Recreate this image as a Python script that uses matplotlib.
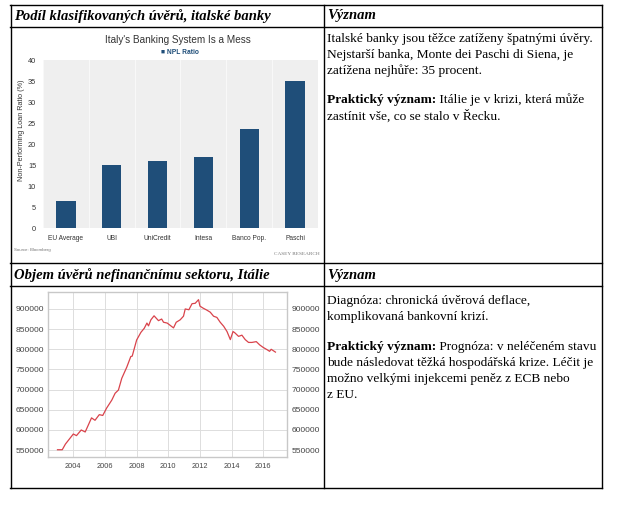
import matplotlib.pyplot as plt
from matplotlib.lines import Line2D

W, H = 617, 517

# bar chart data (NPL ratio, %)
banks = ["EU Average", "UBI", "UniCredit", "Intesa", "Banco Pop.", "Paschi"]
npl_ratio = [6.5, 15.0, 16.0, 17.0, 23.5, 35.0]
bar_yticks = [0, 5, 10, 15, 20, 25, 30, 35, 40]

# loans to non-financial sector, Italy
loan_years = [2003.0, 2003.3, 2003.5, 2004.0, 2004.2, 2004.5, 2004.75, 2005.15, 2005.37,
              2005.64, 2005.86, 2006.1, 2006.43, 2006.64, 2006.85, 2007.06, 2007.38,
              2007.63, 2007.72, 2008.0, 2008.27, 2008.48, 2008.65, 2008.75, 2008.9,
              2009.1, 2009.38, 2009.58, 2009.7, 2009.93, 2010.33, 2010.5, 2010.75,
              2010.96, 2011.07, 2011.3, 2011.5, 2011.7, 2011.91, 2012.0, 2012.2,
              2012.44, 2012.65, 2012.86, 2013.07, 2013.28, 2013.5, 2013.71, 2013.92,
              2014.09, 2014.2, 2014.44, 2014.65, 2014.86, 2015.07, 2015.28, 2015.56,
              2015.77, 2015.98, 2016.24, 2016.4, 2016.5, 2016.77]
loan_values = [551000, 551000, 565000, 590000, 586000, 600000, 595000, 630000, 624000,
               638000, 636000, 654000, 674000, 691000, 699000, 728000, 756000,
               782000, 783000, 823000, 842000, 852000, 865000, 858000, 873000,
               883000, 871000, 875000, 867000, 865000, 853000, 867000, 873000,
               882000, 900000, 898000, 913000, 914000, 923000, 907000, 902000,
               897000, 892000, 882000, 879000, 867000, 857000, 844000, 824000,
               844000, 841000, 832000, 835000, 824000, 817000, 817000, 819000,
               811000, 805000, 799000, 795000, 800000, 793000]
loan_yticks = [550000, 600000, 650000, 700000, 750000, 800000, 850000, 900000]
loan_xticks = [2004, 2006, 2008, 2010, 2012, 2014, 2016]


def px(x0, y0, x1, y1):
    return [x0 / W, 1 - y1 / H, (x1 - x0) / W, (y1 - y0) / H]


fig = plt.figure(figsize=(W / 100, H / 100), dpi=100)
fig.patch.set_facecolor("white")

# overlay in pixel coords for table + text
bg = fig.add_axes([0, 0, 1, 1])
bg.set_xlim(0, W)
bg.set_ylim(H, 0)
bg.axis("off")

lw = 1.0
for y in [4.5, 27, 263, 285.5, 487.5]:
    bg.add_line(Line2D([10, 602], [y, y], color="black", lw=lw))
for x in [10.5, 324, 601.5]:
    bg.add_line(Line2D([x, x], [4.5, 487.5], color="black", lw=lw))

serif = "Liberation Serif"
hdr = dict(family=serif, fontsize=10.5, fontweight="bold", fontstyle="italic", va="center", ha="left")
bg.text(14, 16, "Podíl klasifikovaných úvěrů, italské banky", **hdr)
bg.text(327, 16, "Význam", **hdr)
bg.text(14, 275, "Objem úvěrů nefinančnímu sektoru, Itálie", **hdr)
bg.text(327, 275, "Význam", **hdr)

fs = 9.6
body = dict(family=serif, fontsize=fs, va="center", ha="left")


def mixed(x, y, bold, rest):
    t = bg.text(x, y, bold, fontweight="bold", **body)
    bg.annotate(rest, xy=(1, 0), xycoords=t, va="bottom", ha="left",
                family=serif, fontsize=fs)


bg.text(327, 39, "Italské banky jsou těžce zatíženy špatnými úvěry.", **body)
bg.text(327, 55, "Nejstarší banka, Monte dei Paschi di Siena, je", **body)
bg.text(327, 71, "zatížena nejhůře: 35 procent.", **body)
mixed(327, 100, "Praktický význam:", " Itálie je v krizi, která může")
bg.text(327, 116, "zastínit vše, co se stalo v Řecku.", **body)

bg.text(327, 301, "Diagnóza: chronická úvěrová deflace,", **body)
bg.text(327, 317, "komplikovaná bankovní krizí.", **body)
mixed(327, 347, "Praktický význam:", " Prognóza: v neléčeném stavu")
bg.text(327, 363, "bude následovat těžká hospodářská krize. Léčit je", **body)
bg.text(327, 379, "možno velkými injekcemi peněz z ECB nebo", **body)
bg.text(327, 395, "z EU.", **body)

# ---- bar chart ----
sans = "Liberation Sans"
ax1 = fig.add_axes(px(43, 60, 318, 228))
ax1.set_facecolor("#efefef")
xpos = list(range(len(banks)))
ax1.bar(xpos, npl_ratio, width=0.42, color="#1f4e79", zorder=3)
ax1.set_xlim(-0.5, len(banks) - 0.5)
ax1.set_ylim(0, 40)
ax1.set_yticks(bar_yticks)
ax1.set_xticks(xpos)
ax1.set_xticklabels(banks, family=sans, fontsize=4.8, color="#333333")
for lab in ax1.get_yticklabels():
    lab.set_family(sans)
ax1.tick_params(axis="x", length=0, labelsize=4.8, labelcolor="#333333", pad=5)
ax1.tick_params(axis="y", length=0, labelsize=5.3, labelcolor="#333333", pad=5)
for i in range(len(banks) + 1):
    ax1.axvline(i - 0.5, color="#f8f8f8", lw=0.8, zorder=1)
for s in ax1.spines.values():
    s.set_visible(False)

bg.text(22, 130, "Non-Performing Loan Ratio (%)", family=sans, fontsize=5.2, color="#333333",
        rotation=90, ha="center", va="center")
bg.text(178, 40, "Italy's Banking System Is a Mess", family=sans, fontsize=7.2,
        color="#333333", ha="center", va="center")
bg.text(180, 53, "\u25a0 NPL Ratio", family=sans, fontsize=4.8, fontweight="bold",
        color="#1f4e79", ha="center", va="center")
bg.text(14, 250, "Source: Bloomberg", family=sans, fontsize=3.2, color="#777777",
        ha="left", va="center")
bg.text(320, 254, "CASEY RESEARCH", family=serif, fontsize=3.8, color="#777777",
        ha="right", va="center")

# ---- line chart ----
ax2 = fig.add_axes(px(48, 292, 287, 457))
ax2.plot(loan_years, loan_values, color="#d9434b", lw=0.9, zorder=3)
ax2.set_xlim(2002.4, 2017.5)
ax2.set_ylim(533000, 942000)
ax2.set_xticks(loan_xticks)
ax2.set_yticks(loan_yticks)
ax2.grid(True, color="#dddddd", lw=0.7)
ax2.tick_params(axis="x", length=0, labelsize=5.3, labelcolor="#444444", pad=4)
ax2.tick_params(axis="y", length=0, labelsize=6.1, labelcolor="#444444", pad=3)
for lab in ax2.get_xticklabels() + ax2.get_yticklabels():
    lab.set_family(sans)
for s in ax2.spines.values():
    s.set_color("#c8c8c8")
    s.set_linewidth(1.0)

ax3 = ax2.twinx()
ax3.set_ylim(ax2.get_ylim())
ax3.set_yticks(loan_yticks)
ax3.tick_params(axis="y", length=0, labelsize=6.1, labelcolor="#444444", pad=3)
for lab in ax3.get_yticklabels():
    lab.set_family(sans)
for s in ax3.spines.values():
    s.set_visible(False)

fig.savefig("out.png", dpi=100)
